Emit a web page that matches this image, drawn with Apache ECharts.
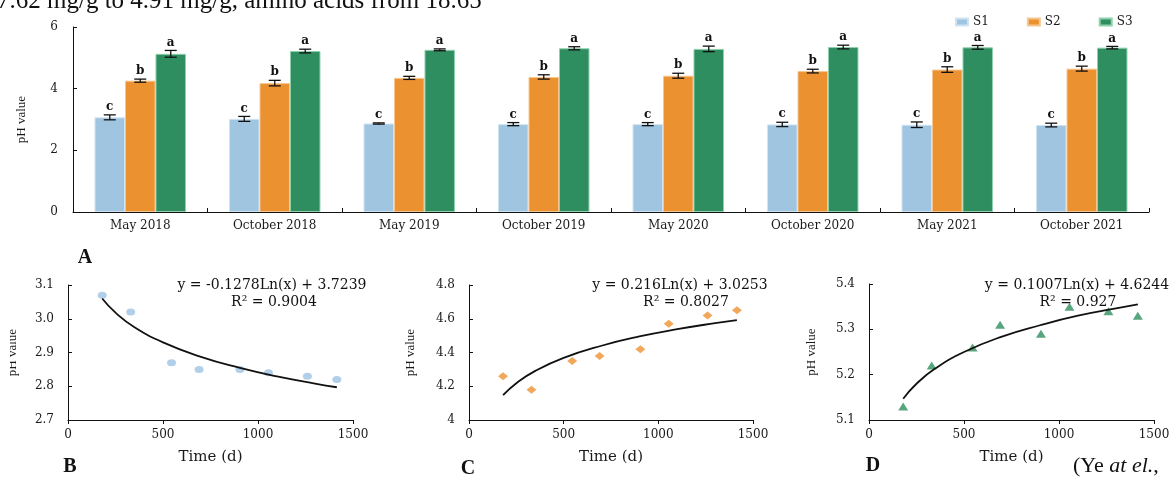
<!DOCTYPE html>
<html><head><meta charset="utf-8">
<script src="https://cdn.jsdelivr.net/npm/echarts@6/dist/echarts.min.js"></script>
<style>html,body{margin:0;padding:0;background:#fff}#c{width:1176px;height:483px}</style>
</head><body><div id="c"></div>
<script>
// ---- data ----
const categories = ['May 2018','October 2018','May 2019','October 2019','May 2020','October 2020','May 2021','October 2021'];
const s1Values = [3.07,3.02,2.87,2.85,2.85,2.84,2.83,2.82];
const s2Values = [4.26,4.18,4.35,4.38,4.42,4.57,4.62,4.65];
const s3Values = [5.13,5.22,5.26,5.31,5.29,5.35,5.34,5.33];
const s1Errors = [0.08,0.08,0.02,0.05,0.05,0.07,0.09,0.06];
const s2Errors = [0.05,0.09,0.05,0.07,0.08,0.06,0.09,0.08];
const s3Errors = [0.11,0.06,0.03,0.05,0.09,0.06,0.06,0.04];
const s1Letters = ['c','c','c','c','c','c','c','c'];
const s2Letters = ['b','b','b','b','b','b','b','b'];
const s3Letters = ['a','a','a','a','a','a','a','a'];
const barTicks = [0,2,4,6];
const days = [180,330,545,690,905,1055,1260,1415];
const curveDays = [180,250,350,500,700,900,1100,1300,1415];
const s1Curve = [3.060,3.018,2.975,2.930,2.887,2.855,2.829,2.808,2.797];
const s2Curve = [4.147,4.218,4.291,4.368,4.440,4.495,4.538,4.574,4.592];
const s3Curve = [5.147,5.180,5.214,5.250,5.284,5.309,5.330,5.346,5.355];
const eqB = ['y = -0.1278Ln(x) + 3.7239','R\u00b2 = 0.9004'];
const eqC = ['y = 0.216Ln(x) + 3.0253','R\u00b2 = 0.8027'];
const eqD = ['y = 0.1007Ln(x) + 4.6244','R\u00b2 = 0.927'];
const topText = '7.62 mg/g to 4.91 mg/g, amino acids from 18.65';

// ---- styles ----
const SERIF = 'DejaVu Serif';
const TIMES = 'Liberation Serif';
const colS1 = '#9fc5e0', colS2 = '#ec9130', colS3 = '#2e8e5f';
const axisLine = {show:true, lineStyle:{color:'#111', width:1}};
const lab = {color:'#1a1a1a', fontFamily:SERIF, fontSize:12};

function pairs(xs, ys){ return xs.map((x,i)=>[x, ys[i]]); }

function errSeries(idx, vals, errs, letters){
  return {
    type:'custom', xAxisIndex:0, yAxisIndex:0, z:5, silent:true,
    data: vals.map((v,i)=>[i, v, errs[i]]),
    renderItem(params, api){
      const i = api.value(0), v = api.value(1), e = api.value(2);
      const c = api.coord([i, v]);
      const band = api.size([1,0])[0];
      const bw = band*0.68/3;
      const x = c[0] + (idx-1)*bw;
      const top = api.coord([i, v+e])[1], bot = api.coord([i, v-e])[1];
      const hw = 6, st = {stroke:'#111', lineWidth:1.3};
      return {type:'group', children:[
        {type:'line', shape:{x1:x,y1:top,x2:x,y2:bot}, style:st},
        {type:'line', shape:{x1:x-hw,y1:top,x2:x+hw,y2:top}, style:st},
        {type:'line', shape:{x1:x-hw,y1:bot,x2:x+hw,y2:bot}, style:st},
        {type:'text', style:{text:letters[params.dataIndex], x:x, y:top-2, align:'center', verticalAlign:'bottom',
          font:'bold 12px "'+SERIF+'"', fill:'#111'}}
      ]};
    }
  };
}

function scatterAxes(gi, min, max, interval, fmt, nameGap){
  return {
    x:{gridIndex:gi, type:'value', min:0, max:1500, interval:500, name:'Time (d)', nameLocation:'middle', nameGap:30,
       nameTextStyle:{fontFamily:SERIF, fontSize:15, color:'#1a1a1a'},
       axisLine, axisTick:{show:true, length:4, lineStyle:{color:'#111'}}, splitLine:{show:false},
       axisLabel:Object.assign({margin:9, fontSize:13, formatter:v => String(v)}, lab)},
    y:{gridIndex:gi, type:'value', min, max, interval, name:'pH value', nameLocation:'middle', nameGap,
       nameTextStyle:{fontFamily:TIMES, fontSize:13, color:'#1a1a1a'},
       axisLine, axisTick:{show:true, inside:true, length:4, lineStyle:{color:'#111'}}, splitLine:{show:false},
       axisLabel:Object.assign({margin:14, fontSize:13, formatter:fmt}, lab)}
  };
}
const fmt1 = v => v.toFixed(1);
const fmtC = v => String(Math.round(v*10)/10);
const aB = scatterAxes(1, 2.7, 3.1, 0.1, fmt1, 49);
const aC = scatterAxes(2, 4.0, 4.8, 0.2, fmtC, 52);
const aD = scatterAxes(3, 5.1, 5.4, 0.1, fmt1, 51);

function txt(text, x, y, font, extra){
  return {type:'text', x, y, z:50, style:Object.assign({text, font, fill:'#111', align:'center', verticalAlign:'middle'}, extra||{})};
}

const chart = echarts.init(document.getElementById('c'), null, {renderer:'canvas'});
chart.setOption({
  animation:false,
  backgroundColor:'#fff',
  legend:{data:['S1','S2','S3'], left:950, top:11, itemWidth:12, itemHeight:7, itemGap:38, icon:'rect',
    textStyle:{fontFamily:SERIF, fontSize:12, color:'#1a1a1a'}},
  grid:[
    {left:73, top:27, width:1076, height:185},
    {left:68, top:285, width:285, height:135},
    {left:469, top:285, width:284, height:135},
    {left:869, top:284, width:285, height:136}
  ],
  xAxis:[
    {gridIndex:0, type:'category', data:categories, axisLine, splitLine:{show:false},
     axisTick:{show:true, inside:true, length:4, lineStyle:{color:'#111'}},
     axisLabel:Object.assign({margin:8, fontSize:13}, lab)},
    aB.x, aC.x, aD.x
  ],
  yAxis:[
    {gridIndex:0, type:'value', min:barTicks[0], max:barTicks[barTicks.length-1], interval:barTicks[1]-barTicks[0],
     name:'pH value', nameLocation:'middle', nameGap:45, nameTextStyle:{fontFamily:TIMES, fontSize:13, color:'#1a1a1a'},
     axisLine, axisTick:{show:true, inside:true, length:4, lineStyle:{color:'#111'}}, splitLine:{show:false},
     axisLabel:Object.assign({margin:15}, lab)},
    aB.y, aC.y, aD.y
  ],
  series:[
    {name:'S1', type:'bar', data:s1Values, barGap:'0%', barCategoryGap:'32%', itemStyle:{color:colS1, borderColor:'#cfe3f2', borderWidth:1}},
    {name:'S2', type:'bar', data:s2Values, barGap:'0%', barCategoryGap:'32%', itemStyle:{color:colS2, borderColor:'#f6c690', borderWidth:1}},
    {name:'S3', type:'bar', data:s3Values, barGap:'0%', barCategoryGap:'32%', itemStyle:{color:colS3, borderColor:'#8fd0ad', borderWidth:1}},
    errSeries(0, s1Values, s1Errors, s1Letters),
    errSeries(1, s2Values, s2Errors, s2Letters),
    errSeries(2, s3Values, s3Errors, s3Letters),
    {type:'line', xAxisIndex:1, yAxisIndex:1, data:pairs(curveDays, s1Curve), smooth:true, showSymbol:false, lineStyle:{color:'#111', width:1.8}, z:3},
    {type:'scatter', xAxisIndex:1, yAxisIndex:1, data:pairs(days, s1Values), symbol:'circle', symbolSize:[9,7], itemStyle:{color:'#9dc3e4'}, z:2},
    {type:'line', xAxisIndex:2, yAxisIndex:2, data:pairs(curveDays, s2Curve), smooth:true, showSymbol:false, lineStyle:{color:'#111', width:1.8}, z:3},
    {type:'scatter', xAxisIndex:2, yAxisIndex:2, data:pairs(days, s2Values), symbol:'diamond', symbolSize:[10,8], itemStyle:{color:'#ed9232'}, z:2},
    {type:'line', xAxisIndex:3, yAxisIndex:3, data:pairs(curveDays, s3Curve), smooth:true, showSymbol:false, lineStyle:{color:'#111', width:1.8}, z:3},
    {type:'scatter', xAxisIndex:3, yAxisIndex:3, data:pairs(days, s3Values), symbol:'triangle', symbolSize:[10,8], itemStyle:{color:'#2f8f5e'}, z:2}
  ],
  graphic:[
    txt(topText, -3, 1, '25px "'+TIMES+'"', {align:'left'}),
    txt('A', 85, 258, 'bold 20px "'+TIMES+'"'),
    txt('B', 70, 467, 'bold 20px "'+TIMES+'"'),
    txt('C', 468, 469, 'bold 20px "'+TIMES+'"'),
    txt('D', 873, 466, 'bold 20px "'+TIMES+'"'),
    {type:'text', x:1073, y:466, z:50, style:{text:'(Ye {i|at el.},', font:'22px "'+TIMES+'"', fill:'#111', align:'left', verticalAlign:'middle',
       rich:{i:{fontStyle:'italic', fontFamily:TIMES, fontSize:22, fill:'#111'}}}},
    txt(eqB[0], 272, 285, '14px "'+SERIF+'"'),
    txt(eqB[1], 274, 302, '14px "'+SERIF+'"'),
    txt(eqC[0], 680, 285, '14px "'+SERIF+'"'),
    txt(eqC[1], 686, 302, '14px "'+SERIF+'"'),
    txt(eqD[0], 1077, 285, '14px "'+SERIF+'"'),
    txt(eqD[1], 1078, 302, '14px "'+SERIF+'"'),
    {type:'rect', z:60, shape:{x:0, y:300, width:10, height:100}, style:{fill:'#fff'}}
  ]
});
</script></body></html>
